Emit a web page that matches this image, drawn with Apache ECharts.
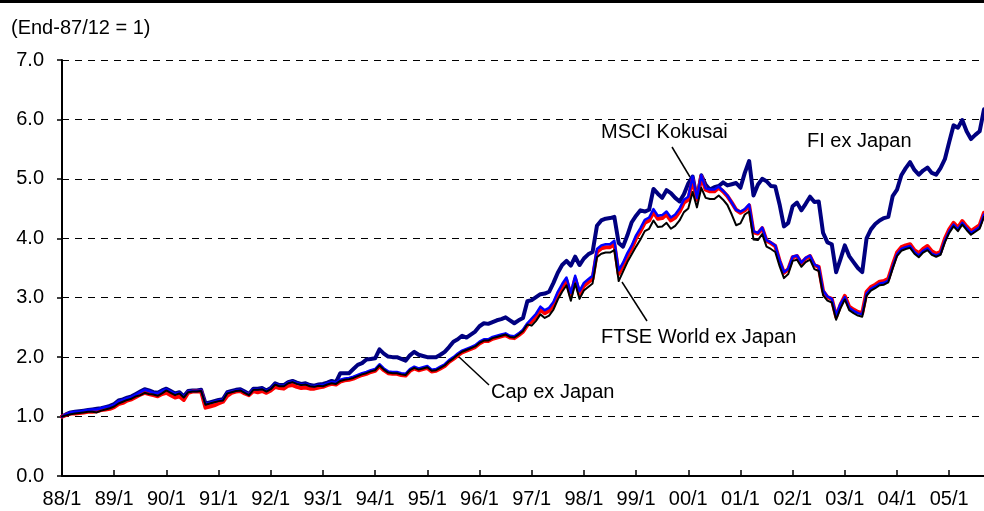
<!DOCTYPE html>
<html>
<head>
<meta charset="utf-8">
<script src="https://cdn.jsdelivr.net/npm/echarts@6/dist/echarts.min.js"></script>
<style>
  html, body { margin: 0; padding: 0; background: #fff; }
  #chart { width: 984px; height: 511px; }
</style>
</head>
<body>
<div id="chart"></div>
<script>
// monthly index, end-87/12 = 1, first point labelled 88/1, last 05/9
const years = ['88', '89', '90', '91', '92', '93', '94', '95', '96', '97', '98', '99', '00', '01', '02', '03', '04', '05']
const months = []
years.forEach(y => {
  for (let m = 1; m <= 12; m++) months.push(y + '/' + m)
})
months.length = 213

const fiExJapan = [
  1.00, 1.04, 1.07, 1.08, 1.09, 1.10, 1.11, 1.12, 1.13, 1.14, 1.16, 1.18,
  1.21, 1.27, 1.29, 1.32, 1.34, 1.38, 1.42, 1.46, 1.44, 1.41, 1.40, 1.44,
  1.47, 1.43, 1.39, 1.41, 1.34, 1.43, 1.44, 1.44, 1.45, 1.22, 1.24, 1.26,
  1.28, 1.29, 1.41, 1.43, 1.45, 1.46, 1.42, 1.38, 1.47, 1.47, 1.48, 1.44,
  1.48, 1.56, 1.53, 1.53, 1.58, 1.60, 1.57, 1.55, 1.56, 1.53, 1.52, 1.54,
  1.55, 1.57, 1.60, 1.58, 1.73, 1.73, 1.73, 1.80, 1.87, 1.90, 1.96, 1.97,
  1.98, 2.13, 2.06, 2.01, 2.00, 2.00, 1.97, 1.94, 2.03, 2.09, 2.04, 2.02,
  2.00, 2.00, 2.00, 2.04, 2.09, 2.17, 2.26, 2.30, 2.36, 2.33, 2.38, 2.43,
  2.52, 2.57, 2.56, 2.59, 2.62, 2.64, 2.67, 2.62, 2.57, 2.62, 2.66, 2.94,
  2.96, 3.01, 3.06, 3.07, 3.10, 3.25, 3.42, 3.55, 3.62, 3.54, 3.69, 3.55,
  3.66, 3.73, 3.77, 4.21, 4.30, 4.33, 4.34, 4.36, 3.92, 3.86, 4.05, 4.27,
  4.38, 4.47, 4.45, 4.48, 4.83, 4.75, 4.68, 4.81, 4.76, 4.68, 4.62, 4.74,
  4.92, 5.04, 4.65, 5.06, 4.90, 4.82, 4.86, 4.88, 4.94, 4.89, 4.91, 4.93,
  4.85, 5.10, 5.30, 4.72, 4.90, 5.00, 4.96, 4.88, 4.87, 4.57, 4.20, 4.26,
  4.54, 4.60, 4.47, 4.58, 4.70, 4.61, 4.62, 4.09, 3.93, 3.90, 3.43, 3.65,
  3.88, 3.70, 3.60, 3.50, 3.43, 4.00, 4.15, 4.24, 4.30, 4.34, 4.36, 4.71,
  4.82, 5.06, 5.18, 5.28, 5.15, 5.07, 5.14, 5.19, 5.10, 5.07, 5.18, 5.33,
  5.62, 5.90, 5.86, 5.99, 5.80, 5.67, 5.74, 5.80, 6.17
]

const capExJapan = [
  1.00, 1.03, 1.05, 1.05, 1.06, 1.07, 1.08, 1.08, 1.09, 1.11, 1.12, 1.13,
  1.16, 1.21, 1.23, 1.27, 1.29, 1.33, 1.37, 1.40, 1.38, 1.36, 1.34, 1.38,
  1.40, 1.36, 1.32, 1.34, 1.28, 1.40, 1.42, 1.42, 1.42, 1.15, 1.17, 1.19,
  1.22, 1.25, 1.35, 1.40, 1.42, 1.43, 1.39, 1.36, 1.43, 1.41, 1.43, 1.40,
  1.44, 1.50, 1.48, 1.47, 1.52, 1.53, 1.50, 1.48, 1.49, 1.47, 1.47, 1.49,
  1.50, 1.53, 1.55, 1.54, 1.59, 1.61, 1.62, 1.64, 1.67, 1.70, 1.72, 1.75,
  1.77, 1.85, 1.78, 1.73, 1.72, 1.72, 1.70, 1.69, 1.77, 1.81, 1.78, 1.80,
  1.82, 1.76, 1.77, 1.81, 1.85, 1.92, 1.97, 2.03, 2.08, 2.11, 2.14, 2.17,
  2.23, 2.27, 2.27, 2.31, 2.33, 2.35, 2.37, 2.33, 2.32, 2.37, 2.43, 2.54,
  2.60, 2.68, 2.80, 2.74, 2.78, 2.88, 3.05, 3.18, 3.29, 3.03, 3.32, 3.06,
  3.20, 3.26, 3.32, 3.77, 3.83, 3.85, 3.85, 3.90, 3.40, 3.54, 3.70, 3.83,
  4.00, 4.12, 4.26, 4.30, 4.44, 4.33, 4.34, 4.40, 4.30, 4.35, 4.45, 4.60,
  4.65, 4.99, 4.65, 5.04, 4.82, 4.79, 4.79, 4.85, 4.79, 4.71, 4.60, 4.48,
  4.43, 4.47, 4.55, 4.10, 4.08, 4.17, 3.96, 3.92, 3.87, 3.62, 3.42, 3.48,
  3.68, 3.70, 3.58, 3.66, 3.70, 3.55, 3.52, 3.11, 3.01, 2.98, 2.68, 2.88,
  3.03, 2.85, 2.80, 2.76, 2.74, 3.10, 3.18, 3.22, 3.27, 3.28, 3.32, 3.55,
  3.76, 3.85, 3.88, 3.90, 3.80, 3.75, 3.82, 3.87, 3.78, 3.74, 3.77, 3.99,
  4.15, 4.26, 4.18, 4.29, 4.20, 4.12, 4.17, 4.22, 4.43
]

const msciKokusai = [
  1.00, 1.04, 1.07, 1.08, 1.08, 1.10, 1.11, 1.12, 1.12, 1.14, 1.16, 1.17,
  1.20, 1.26, 1.28, 1.31, 1.33, 1.37, 1.41, 1.45, 1.43, 1.40, 1.39, 1.43,
  1.46, 1.42, 1.38, 1.40, 1.33, 1.42, 1.43, 1.43, 1.44, 1.21, 1.23, 1.25,
  1.27, 1.28, 1.40, 1.42, 1.44, 1.45, 1.41, 1.37, 1.46, 1.46, 1.47, 1.43,
  1.47, 1.55, 1.52, 1.52, 1.57, 1.59, 1.56, 1.54, 1.55, 1.52, 1.51, 1.53,
  1.53, 1.56, 1.58, 1.57, 1.62, 1.64, 1.65, 1.67, 1.70, 1.73, 1.75, 1.78,
  1.80, 1.88, 1.81, 1.76, 1.75, 1.75, 1.73, 1.72, 1.80, 1.84, 1.81, 1.83,
  1.85, 1.79, 1.80, 1.84, 1.88, 1.95, 2.00, 2.06, 2.11, 2.14, 2.17, 2.20,
  2.26, 2.30, 2.30, 2.34, 2.36, 2.38, 2.40, 2.36, 2.35, 2.40, 2.46, 2.57,
  2.65, 2.73, 2.85, 2.79, 2.83, 2.93, 3.10, 3.23, 3.34, 3.08, 3.37, 3.11,
  3.25, 3.31, 3.37, 3.82, 3.88, 3.90, 3.90, 3.96, 3.46, 3.59, 3.75, 3.88,
  4.05, 4.17, 4.31, 4.35, 4.49, 4.38, 4.39, 4.45, 4.35, 4.40, 4.50, 4.65,
  4.70, 5.04, 4.68, 5.06, 4.84, 4.82, 4.82, 4.87, 4.80, 4.72, 4.60, 4.48,
  4.45, 4.49, 4.57, 4.12, 4.09, 4.18, 3.97, 3.93, 3.88, 3.63, 3.43, 3.49,
  3.69, 3.71, 3.59, 3.67, 3.71, 3.56, 3.52, 3.12, 3.02, 2.98, 2.70, 2.90,
  3.01, 2.83, 2.78, 2.74, 2.72, 3.07, 3.15, 3.19, 3.24, 3.25, 3.29, 3.52,
  3.73, 3.82, 3.85, 3.87, 3.77, 3.71, 3.79, 3.83, 3.74, 3.71, 3.74, 3.96,
  4.12, 4.23, 4.15, 4.26, 4.17, 4.09, 4.14, 4.19, 4.40
]

const ftseWorldExJapan = [
  1.00, 1.02, 1.04, 1.05, 1.06, 1.07, 1.08, 1.08, 1.07, 1.10, 1.12, 1.14,
  1.17, 1.22, 1.25, 1.28, 1.30, 1.34, 1.36, 1.40, 1.38, 1.37, 1.35, 1.39,
  1.44, 1.40, 1.36, 1.39, 1.32, 1.41, 1.42, 1.42, 1.43, 1.20, 1.22, 1.24,
  1.26, 1.27, 1.39, 1.41, 1.43, 1.44, 1.40, 1.36, 1.45, 1.45, 1.46, 1.42,
  1.46, 1.54, 1.51, 1.51, 1.56, 1.58, 1.55, 1.53, 1.54, 1.51, 1.50, 1.52,
  1.51, 1.54, 1.56, 1.55, 1.60, 1.62, 1.63, 1.65, 1.68, 1.71, 1.73, 1.76,
  1.78, 1.86, 1.79, 1.74, 1.73, 1.73, 1.71, 1.70, 1.78, 1.82, 1.79, 1.81,
  1.83, 1.77, 1.78, 1.82, 1.86, 1.93, 1.98, 2.04, 2.09, 2.12, 2.15, 2.18,
  2.24, 2.28, 2.28, 2.32, 2.34, 2.36, 2.38, 2.34, 2.33, 2.38, 2.44, 2.55,
  2.53, 2.61, 2.72, 2.66, 2.70, 2.80, 2.97, 3.10, 3.21, 2.95, 3.24, 2.98,
  3.12, 3.18, 3.24, 3.68, 3.74, 3.76, 3.76, 3.80, 3.28, 3.44, 3.60, 3.73,
  3.86, 3.98, 4.12, 4.16, 4.30, 4.19, 4.20, 4.26, 4.16, 4.21, 4.30, 4.44,
  4.50, 4.78, 4.52, 4.85, 4.68, 4.66, 4.66, 4.72, 4.65, 4.56, 4.40, 4.22,
  4.25, 4.40, 4.45, 3.98, 3.97, 4.07, 3.86, 3.82, 3.77, 3.53, 3.33, 3.40,
  3.62, 3.64, 3.52, 3.60, 3.64, 3.48, 3.45, 3.04, 2.95, 2.92, 2.63, 2.82,
  2.97, 2.79, 2.74, 2.70, 2.68, 3.03, 3.12, 3.16, 3.21, 3.22, 3.26, 3.49,
  3.70, 3.79, 3.82, 3.84, 3.74, 3.68, 3.76, 3.80, 3.72, 3.69, 3.72, 3.93,
  4.09, 4.20, 4.12, 4.23, 4.14, 4.06, 4.11, 4.16, 4.36
]

const yTicks = [0, 1, 2, 3, 4, 5, 6, 7]

const FONT = '"Liberation Sans", Arial, sans-serif'
const isYearStart = (idx) => idx % 12 === 0

const chart = echarts.init(document.getElementById('chart'), null, { renderer: 'canvas' })

const lineSeries = (name, data, color, width, z) => ({
  name,
  type: 'line',
  data,
  symbol: 'none',
  smooth: false,
  z,
  lineStyle: { color, width, join: 'round', cap: 'round' },
  emphasis: { disabled: true },
  animation: false
})

// 注释文字和引出线
const label = (text, x, y) => ({
  type: 'text',
  x, y,
  style: {
    text,
    font: '20px ' + FONT,
    fill: '#000',
    verticalAlign: 'middle',
    textVerticalAlign: 'middle'
  }
})
const leader = (x1, y1, x2, y2) => ({
  type: 'line',
  shape: { x1, y1, x2, y2 },
  style: { stroke: '#000', lineWidth: 1.5 }
})

chart.setOption({
  animation: false,
  backgroundColor: '#fff',
  grid: { left: 62, right: 0, top: 60, bottom: 35, containLabel: false },
  xAxis: {
    type: 'category',
    data: months,
    boundaryGap: false,
    axisLine: { lineStyle: { color: '#000', width: 2 } },
    axisTick: { show: true, inside: true, length: 6, interval: isYearStart, lineStyle: { color: '#000', width: 1.5 } },
    axisLabel: { interval: isYearStart, color: '#000', fontSize: 20, fontFamily: FONT, margin: 13 },
    splitLine: { show: false }
  },
  yAxis: {
    type: 'value',
    min: yTicks[0],
    max: yTicks[yTicks.length - 1],
    interval: 1,
    axisLine: { show: true, lineStyle: { color: '#000', width: 2 } },
    axisTick: { show: true, inside: false, length: 5, lineStyle: { color: '#000', width: 1.5 } },
    axisLabel: { color: '#000', fontSize: 20, fontFamily: FONT, margin: 18, formatter: v => v.toFixed(1) },
    splitLine: { show: true, lineStyle: { color: '#000', width: 1, type: [7, 6] } }
  },
  series: [
    lineSeries('FI ex Japan', fiExJapan, '#000080', 4, 2),
    lineSeries('Cap ex Japan', capExJapan, '#ff0000', 4, 3),
    lineSeries('MSCI Kokusai', msciKokusai, '#0000ff', 2.5, 4),
    lineSeries('FTSE World ex Japan', ftseWorldExJapan, '#000000', 2, 5)
  ],
  graphic: [
    { type: 'rect', left: 0, top: 0, shape: { width: 984, height: 3 }, style: { fill: '#000' } },
    label('(End-87/12 = 1)', 11, 28),
    label('MSCI Kokusai', 601, 132),
    label('FI ex Japan', 807, 141),
    label('FTSE World ex Japan', 601, 337),
    label('Cap ex Japan', 491, 392),
    leader(672, 147, 690, 177),
    leader(622, 282, 647, 321),
    leader(458, 356, 489, 385)
  ]
})
</script>
</body>
</html>
